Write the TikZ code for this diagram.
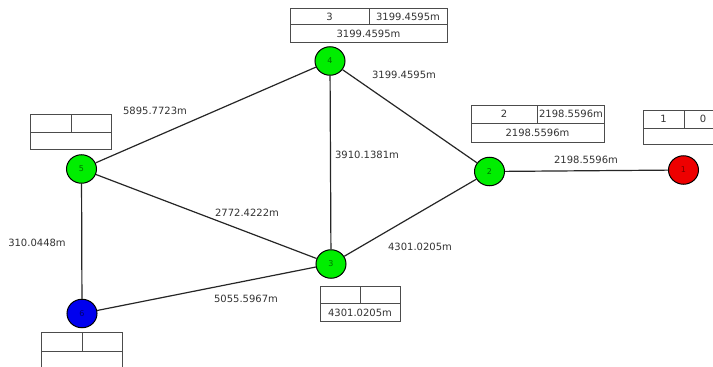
\documentclass[tikz,border=0pt]{standalone}
\usepackage{fontspec}
\setmainfont{DejaVu Sans}
\usetikzlibrary{shapes.geometric}
\begin{document}
\begin{tikzpicture}[x=1pt,y=-1pt,
  vtx/.style={ellipse,draw=black,line width=1pt,minimum width=30pt,minimum height=28.5pt,inner sep=0pt,font=\fontsize{8}{9}\selectfont},
  gvtx/.style={vtx,fill=gfill,text=gtext},
  edge/.style={line width=1.2pt,draw=black!85},
  elabel/.style={font=\fontsize{10}{11}\selectfont,text=black!80,inner sep=0pt},
  tbl/.style={draw=black!70,line width=0.8pt},
  ttext/.style={font=\fontsize{10}{11}\selectfont,text=black!80,inner sep=0pt}]
\definecolor{gfill}{RGB}{0,238,0}
\definecolor{gtext}{RGB}{0,110,0}
\definecolor{rfill}{RGB}{238,0,0}
\definecolor{rtext}{RGB}{120,0,0}
\definecolor{bfill}{RGB}{0,0,238}
\definecolor{btext}{RGB}{0,0,110}
\useasboundingbox (0,0) rectangle (713,367);
\fill[white] (0,0) rectangle (713,367);
\begin{scope}
\clip (0,0) rectangle (713,367);
% vertices
\node[gvtx] (n4) at (330,61) {4};
\node[gvtx] (n5) at (81.5,169) {5};
\node[gvtx] (n2) at (489.5,171.5) {2};
\node[gvtx] (n3) at (331,264) {3};
\node[vtx,fill=rfill,text=rtext] (n1) at (683.5,170) {1};
\node[vtx,fill=bfill,text=btext] (n6) at (82,313.5) {6};
% edges
\draw[edge] (n4) -- (n5);
\draw[edge] (n4) -- (n2);
\draw[edge] (n4) -- (n3);
\draw[edge] (n5) -- (n3);
\draw[edge] (n5) -- (n6);
\draw[edge] (n2) -- (n3);
\draw[edge] (n2) -- (n1);
\draw[edge] (n6) -- (n3);
% edge labels
\node[elabel] (l42) at (404,75) {3199.4595m};
\node[elabel] (l45) at (155,111) {5895.7723m};
\node[elabel] (l43) at (367,155) {3910.1381m};
\node[elabel] (l21) at (586,160) {2198.5596m};
\node[elabel] (l53) at (247,213) {2772.4222m};
\node[elabel] (l56) at (37,243) {310.0448m};
\node[elabel] (l23) at (420,247) {4301.0205m};
\node[elabel] (l63) at (246,299) {5055.5967m};
% tables
% node 4
\draw[tbl] (290,8) rectangle (447,42);
\draw[tbl] (290,24.5) -- (447,24.5) (369,8) -- (369,24.5);
\node[ttext] (t4a) at (329.5,16.5) {3};
\node[ttext] (t4b) at (408,16.5) {3199.4595m};
\node[ttext] (t4c) at (368.5,33.5) {3199.4595m};
% node 2
\draw[tbl] (471,105) rectangle (604,142);
\draw[tbl] (471,123) -- (604,123) (537,105) -- (537,123);
\node[ttext] (t2a) at (504,114) {2};
\node[ttext] (t2b) at (571,114) {2198.5596m};
\node[ttext] (t2c) at (537.5,132.5) {2198.5596m};
% node 1
\draw[tbl] (643,110) rectangle (730,144);
\draw[tbl] (643,128) -- (730,128) (684,110) -- (684,128);
\node[ttext] (t1a) at (663.5,119) {1};
\node[ttext] (t1b) at (703,119) {0};
% node 5
\draw[tbl] (30,114) rectangle (111,149);
\draw[tbl] (30,132) -- (111,132) (71,114) -- (71,132);
% node 6
\draw[tbl] (41,332) rectangle (122,380);
\draw[tbl] (41,351) -- (122,351) (82,332) -- (82,351);
% node 3
\draw[tbl] (320,286) rectangle (400,321);
\draw[tbl] (320,303) -- (400,303) (360,286) -- (360,303);
\node[ttext] (t3c) at (360,312.5) {4301.0205m};
\end{scope}
\end{tikzpicture}
\end{document}
